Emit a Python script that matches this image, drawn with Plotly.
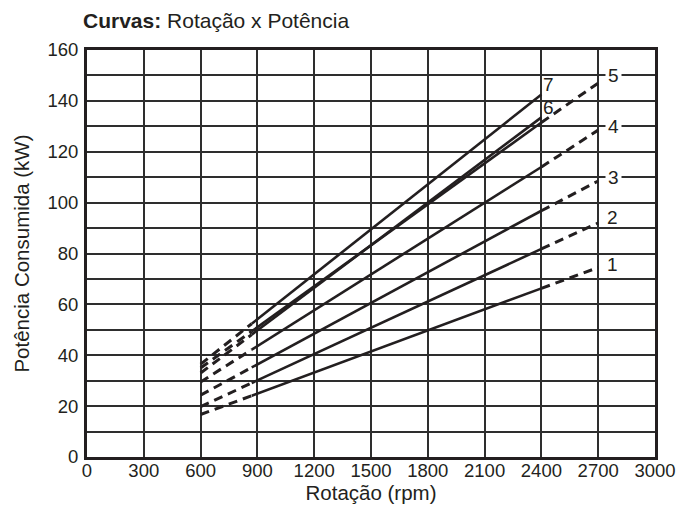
import plotly.graph_objects as go

# Curve identifiers
curves = ["1", "2", "3", "4", "5", "6", "7"]

# rpm break points: dashed start, solid start, solid end, dashed end
rpm_a = 600
rpm_b = 870
rpm_c = 2400
rpm_d = 2700

# Power (kW) read at each break point for every curve (None = no extension)
kw_600 = [16.7, 19.8, 24.3, 29.5, 35.0, 33.0, 36.5]
kw_870 = [24.1, 29.1, 35.2, 42.2, 49.4, 48.1, 52.4]
kw_2400 = [66.3, 81.8, 96.8, 114.0, 131.5, 133.5, 142.5]
kw_2700 = [74.5, 92.0, 108.5, 128.5, 147.0, None, None]

# Label positions (rpm, kW)
label_rpm = [2778, 2778, 2783, 2783, 2783, 2440, 2440]
label_kw = [75.5, 94.3, 110.0, 130.0, 150.0, 137.4, 146.6]
label_bg = [False, False, True, True, True, False, False]

x_ticks = list(range(0, 3001, 300))
y_ticks = list(range(0, 161, 20))

INK = "#231f20"
FONT = "Liberation Sans, Arial, Helvetica, sans-serif"
TICK_SIZE = 18.5
TITLE_SIZE = 20.5

fig = go.Figure()
for i, name in enumerate(curves):
    # left dashed part
    fig.add_trace(go.Scatter(x=[rpm_a, rpm_b], y=[kw_600[i], kw_870[i]], mode="lines",
                             line=dict(color=INK, width=3, dash="9px,6px"),
                             showlegend=False, hoverinfo="skip"))
    # solid part
    fig.add_trace(go.Scatter(x=[rpm_b, rpm_c], y=[kw_870[i], kw_2400[i]], mode="lines",
                             line=dict(color=INK, width=2.6),
                             showlegend=False, name="Curva " + name))
    # right dashed extension
    if kw_2700[i] is not None:
        fig.add_trace(go.Scatter(x=[rpm_c, rpm_d], y=[kw_2400[i], kw_2700[i]], mode="lines",
                                 line=dict(color=INK, width=3, dash="9px,6px"),
                                 showlegend=False, hoverinfo="skip"))
    fig.add_annotation(x=label_rpm[i], y=label_kw[i], text=name, showarrow=False,
                       font=dict(size=19, color=INK, family=FONT),
                       bgcolor="white" if label_bg[i] else "rgba(0,0,0,0)",
                       borderpad=2, xanchor="center", yanchor="middle")

axis_common = dict(showline=True, linewidth=3, linecolor=INK, mirror=True,
                   showgrid=True, gridcolor="#2e2e2e", gridwidth=1.6, automargin=False,
                   zeroline=False, ticks="", tickfont=dict(size=TICK_SIZE, color=INK, family=FONT))

fig.update_xaxes(range=[0, 3000], tickvals=x_ticks, ticktext=[str(v) for v in x_ticks],
                 title=dict(text="Rotação (rpm)", font=dict(size=TITLE_SIZE, color=INK, family=FONT), standoff=4),
                 ticklabelstandoff=-5, **axis_common)
fig.update_yaxes(range=[0, 160], tickvals=y_ticks, ticktext=[str(v) for v in y_ticks],
                 minor=dict(dtick=10, showgrid=True, gridcolor="#2e2e2e", gridwidth=1.6, ticks=""),
                 title=dict(text="Potência Consumida (kW)", font=dict(size=TITLE_SIZE, color=INK, family=FONT), standoff=13),
                 ticklabelstandoff=2, **axis_common)

fig.update_layout(
    width=678, height=508,
    margin=dict(l=87, r=23, t=50, b=51),
    paper_bgcolor="white", plot_bgcolor="white",
    font=dict(family=FONT, color=INK),
    title=dict(text="<b>Curvas:</b> Rotação x Potência", xref="container", yref="container",
               x=83 / 678, y=1 - 21 / 508, xanchor="left", yanchor="middle",
               font=dict(size=21, color=INK, family=FONT)),
)

# remove the page's default body margin so the 678x508 figure fills the window exactly
fig.write_html("out.html",
               config={"displayModeBar": False},
               post_script="document.body.style.margin='0';document.body.style.overflow='hidden';")
